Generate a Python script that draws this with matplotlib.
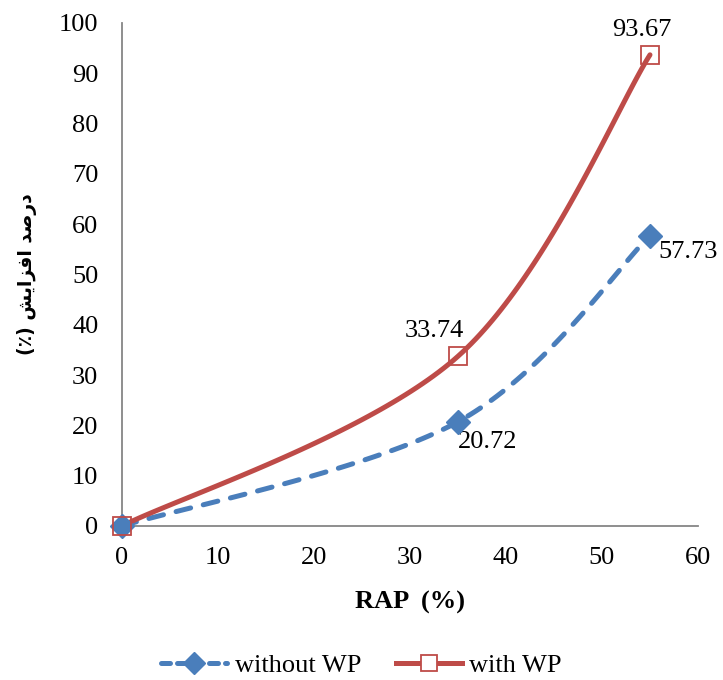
import numpy as np
import matplotlib
matplotlib.use("Agg")
import matplotlib.pyplot as plt
from matplotlib.lines import Line2D

plt.rcParams['font.family'] = ['Liberation Serif', 'DejaVu Sans']

rap = [0, 35, 55]
without_wp = [0, 20.72, 57.73]
with_wp = [0, 33.74, 93.67]
x_ticks = [0, 10, 20, 30, 40, 50, 60]
y_ticks = [0, 10, 20, 30, 40, 50, 60, 70, 80, 90, 100]

# Persian axis title, shaped into presentation forms and laid out in visual order
ylabel_text = ("(\u066A) "
               "\uFEB6\uFEF3\uFE8D\uFEB0\uFED3\uFE8D "
               "\uFEAA\uFEBB\uFEAD\uFEA9")

BLUE = '#4A7EBB'
RED = '#BE4B48'


def smooth(xs, ys, n=60):
    """Catmull-Rom style smoothed curve through the points (spreadsheet 'smooth line')."""
    xs = np.asarray(xs, float)
    ys = np.asarray(ys, float)
    px = np.concatenate([[xs[0]], xs, [xs[-1]]])
    py = np.concatenate([[ys[0]], ys, [ys[-1]]])
    ox, oy = [], []
    for i in range(1, len(px) - 2):
        p0 = np.array([px[i - 1], py[i - 1]])
        p1 = np.array([px[i], py[i]])
        p2 = np.array([px[i + 1], py[i + 1]])
        p3 = np.array([px[i + 2], py[i + 2]])
        c1 = p1 + (p2 - p0) / 6.0
        c2 = p2 - (p3 - p1) / 6.0
        t = np.linspace(0, 1, n)[:, None]
        b = ((1 - t) ** 3) * p1 + 3 * ((1 - t) ** 2) * t * c1 + 3 * (1 - t) * t ** 2 * c2 + t ** 3 * p2
        ox.extend(b[:, 0])
        oy.extend(b[:, 1])
    return np.array(ox), np.array(oy)


fig = plt.figure(figsize=(7.23, 6.8), dpi=100)
ax = fig.add_axes([0.1687, 0.2265, 0.7967, 0.7397])

sx, sy = smooth(rap, without_wp)
ax.plot(sx, sy, color=BLUE, lw=3.6, ls=(0, (3.0, 2.6)), dash_capstyle='round', zorder=3)
ax.plot(rap, without_wp, ls='none', marker='D', ms=12, color=BLUE, mec=BLUE, zorder=4)

sx, sy = smooth(rap, with_wp)
ax.plot(sx, sy, color=RED, lw=3.6, solid_capstyle='round', zorder=3)
ax.plot(rap, with_wp, ls='none', marker='s', ms=13.5, mfc='none', mec=RED, mew=1.3, zorder=5)

ax.set_xlim(0, 60)
ax.set_ylim(0, 100)
ax.set_xticks(x_ticks)
ax.set_yticks(y_ticks)
ax.tick_params(length=0, labelsize=19)
ax.tick_params(axis='x', pad=15)
ax.tick_params(axis='y', pad=17)
for side in ('top', 'right'):
    ax.spines[side].set_visible(False)
for side in ('left', 'bottom'):
    ax.spines[side].set_color('#868686')
    ax.spines[side].set_linewidth(1.3)
for ln in ax.lines:
    ln.set_clip_on(False)

fs = 19
ax.annotate(f"{with_wp[2]:.2f}", (rap[2], with_wp[2]), xytext=(-6, 10), textcoords='offset points',
            ha='center', va='bottom', fontsize=fs)
ax.annotate(f"{without_wp[2]:.2f}", (rap[2], without_wp[2]), xytext=(6, -4), textcoords='offset points',
            ha='left', va='top', fontsize=fs)
ax.annotate(f"{with_wp[1]:.2f}", (rap[1], with_wp[1]), xytext=(-17, 10), textcoords='offset points',
            ha='center', va='bottom', fontsize=fs)
ax.annotate(f"{without_wp[1]:.2f}", (rap[1], without_wp[1]), xytext=(0, -7), textcoords='offset points',
            ha='left', va='top', fontsize=fs)

ax.set_xlabel("RAP  (%)", fontsize=19, fontweight='bold', labelpad=16)
ax.set_ylabel(ylabel_text, fontsize=13.5, fontweight='bold', family=['DejaVu Sans'], labelpad=16)

handles = [
    Line2D([], [], color=BLUE, lw=3.6, ls=(0, (1.8, 1.4)), dash_capstyle='round',
           marker='D', ms=11, mfc=BLUE, mec=BLUE),
    Line2D([], [], color=RED, lw=3.6, marker='s', ms=12, mfc='white', mec=RED, mew=1.3),
]
fig.legend(handles, ['without WP', 'with WP'], loc='center', bbox_to_anchor=(0.5, 0.022),
           ncol=2, frameon=False, fontsize=19, handlelength=2.5, handletextpad=0.3,
           columnspacing=1.3)

fig.savefig('out.png', dpi=100)
